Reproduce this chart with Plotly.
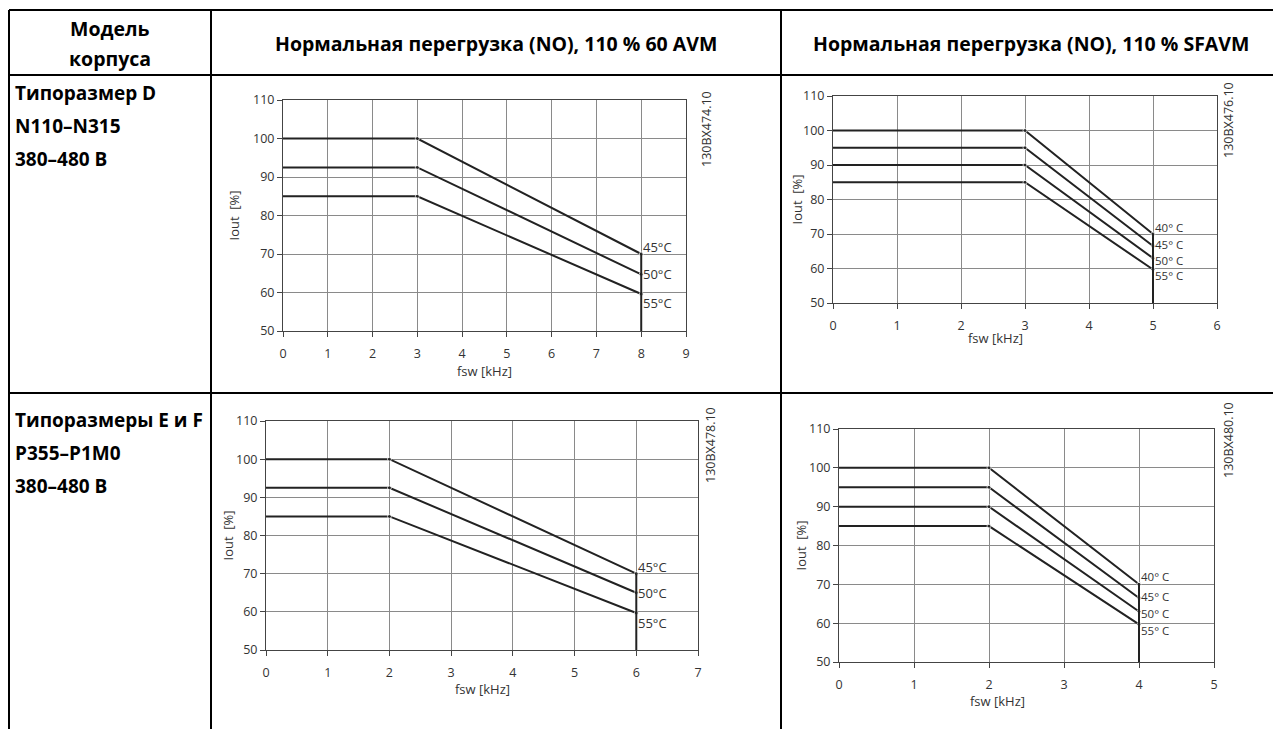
import plotly.graph_objects as go

# ==================================
# DATA
# ==================================

header_model = ["Модель", "корпуса"]
header_avm = "Нормальная перегрузка (NO), 110 % 60 AVM"
header_sfavm = "Нормальная перегрузка (NO), 110 % SFAVM"

row1_labels = ["Типоразмер D", "N110–N315", "380–480 В"]
row2_labels = ["Типоразмеры E и F", "P355–P1M0", "380–480 В"]

y_ticks = [50, 60, 70, 80, 90, 100, 110]

# top-left: size D, 60 AVM
d_avm_fsw = [0, 3, 8]
d_avm_temps = ["45°C", "50°C", "55°C"]
d_avm_iout = [
    [100, 100, 70],
    [92.5, 92.5, 64.7],
    [85, 85, 59.6],
]
d_avm_xmax = 9
d_avm_code = "130BX474.10"

# top-right: size D, SFAVM
d_sfavm_fsw = [0, 3, 5]
d_sfavm_temps = ["40° C", "45° C", "50° C", "55° C"]
d_sfavm_iout = [
    [100, 100, 70],
    [95, 95, 66.5],
    [90, 90, 63],
    [85, 85, 59.7],
]
d_sfavm_xmax = 6
d_sfavm_code = "130BX476.10"

# bottom-left: size E/F, 60 AVM
ef_avm_fsw = [0, 2, 6]
ef_avm_temps = ["45°C", "50°C", "55°C"]
ef_avm_iout = [
    [100, 100, 70],
    [92.5, 92.5, 65],
    [85, 85, 59.7],
]
ef_avm_xmax = 7
ef_avm_code = "130BX478.10"

# bottom-right: size E/F, SFAVM
ef_sfavm_fsw = [0, 2, 4]
ef_sfavm_temps = ["40° C", "45° C", "50° C", "55° C"]
ef_sfavm_iout = [
    [100, 100, 70],
    [95, 95, 66.5],
    [90, 90, 63],
    [85, 85, 59.7],
]
ef_sfavm_xmax = 5
ef_sfavm_code = "130BX480.10"


# ==================================
# LAYOUT HELPERS
# ==================================

W, H = 1281, 729
OFF = 8  # page body margin
FONT = "Open Sans"
HEAD_FONT = "Open Sans"
LINE = "#222222"
GRID = "#8a8a8a"
TXT = "#333333"


def px(x):
    return (x - OFF) / W


def py(y):
    return 1 - (y - OFF) / H


fig = go.Figure()
shapes = []
annotations = []

# table frame
for x in [9, 211, 781]:
    shapes.append(dict(type="line", xref="paper", yref="paper",
                       x0=px(x), x1=px(x), y0=py(10), y1=py(737),
                       line=dict(color="black", width=2)))
for y in [10, 75, 393]:
    shapes.append(dict(type="line", xref="paper", yref="paper",
                       x0=px(9), x1=px(1289), y0=py(y), y1=py(y),
                       line=dict(color="black", width=2)))


def text(x, y, s, size=19.5, anchor="center"):
    annotations.append(dict(
        x=px(x), y=py(y), xref="paper", yref="paper",
        text="<b>%s</b>" % s,
        showarrow=False, xanchor=anchor, yanchor="middle",
        font=dict(family=HEAD_FONT, size=size, color="black"),
    ))


text(110, 28, header_model[0])
text(110, 58, header_model[1])
text(496, 43, header_avm)
text(1031, 43, header_sfavm)

for i, s in enumerate(row1_labels):
    text(13, 93 + 33 * i, s, size=19, anchor="left")
for i, s in enumerate(row2_labels):
    text(13, 420 + 33 * i, s, size=19, anchor="left")


# ==================================
# DERATING CHARTS
# ==================================

def derating_chart(n, box, fsw, curves, temps, xmax, code,
                   label_dy, xtitle_y, ytitle_x, code_pos):
    x0, x1, y0, y1 = box
    xa = "xaxis" if n == 1 else "xaxis%d" % n
    ya = "yaxis" if n == 1 else "yaxis%d" % n
    xr = "x" if n == 1 else "x%d" % n
    yr = "y" if n == 1 else "y%d" % n

    for iout in curves:
        fig.add_trace(go.Scatter(
            x=fsw, y=iout, xaxis=xr, yaxis=yr,
            mode="lines+markers",
            line=dict(color=LINE, width=2),
            marker=dict(size=[0, 4, 4], color=LINE),
            showlegend=False, hoverinfo="skip",
        ))

    # vertical cut-off at the top switching frequency
    fig.add_trace(go.Scatter(
        x=[fsw[-1], fsw[-1]], y=[curves[0][-1], y_ticks[0]],
        xaxis=xr, yaxis=yr, mode="lines",
        line=dict(color=LINE, width=2),
        showlegend=False, hoverinfo="skip",
    ))

    label_size = 13 if len(curves) == 3 else 11.5
    for iout, t, dy in zip(curves, temps, label_dy):
        annotations.append(dict(
            x=fsw[-1], y=iout[-1] + dy, xref=xr, yref=yr,
            text=t, showarrow=False, xanchor="left", yanchor="middle",
            xshift=1, borderpad=0,
            font=dict(family=FONT, size=label_size, color=TXT),
        ))

    fig.update_layout(**{
        xa: dict(
            domain=[px(x0), px(x1)], anchor=yr, automargin=False,
            range=[0, xmax], dtick=1, tick0=0,
            showgrid=True, gridcolor=GRID, gridwidth=1,
            showline=True, linecolor="#444", linewidth=1, mirror=True,
            ticks="outside", ticklen=5, tickcolor="#444",
            ticklabelstandoff=6,
            tickfont=dict(family=FONT, size=12.5, color=TXT),
            zeroline=False, fixedrange=True,
        ),
        ya: dict(
            domain=[py(y1), py(y0)], anchor=xr, automargin=False,
            range=[50, 110], tickvals=y_ticks,
            showgrid=True, gridcolor=GRID, gridwidth=1,
            showline=True, linecolor="#444", linewidth=1, mirror=True,
            ticks="outside", ticklen=5, tickcolor="#444",
            tickfont=dict(family=FONT, size=12.5, color=TXT),
            zeroline=False, fixedrange=True,
        ),
    })

    annotations.append(dict(
        x=px((x0 + x1) / 2), y=py(xtitle_y), xref="paper", yref="paper",
        text="fsw [kHz]", showarrow=False, yanchor="middle",
        font=dict(family=FONT, size=13, color=TXT),
    ))
    annotations.append(dict(
        x=px(ytitle_x), y=py((y0 + y1) / 2), xref="paper", yref="paper",
        text="Iout  [%]", showarrow=False, textangle=-90,
        xanchor="center", yanchor="middle",
        font=dict(family=FONT, size=13, color=TXT),
    ))
    annotations.append(dict(
        x=px(code_pos[0]), y=py(code_pos[1]), xref="paper", yref="paper",
        text=code, showarrow=False, textangle=-90,
        xanchor="center", yanchor="middle",
        font=dict(family=FONT, size=12.5, color=TXT),
    ))


derating_chart(1, (283, 686, 100, 331), d_avm_fsw, d_avm_iout, d_avm_temps,
               d_avm_xmax, d_avm_code, [1.8, 0, -2.2], 371, 233, (707, 129))
derating_chart(2, (833, 1217, 96, 303), d_sfavm_fsw, d_sfavm_iout, d_sfavm_temps,
               d_sfavm_xmax, d_sfavm_code, [2.0, 0.5, -0.6, -1.7], 338, 797, (1228, 120))
derating_chart(3, (266, 698, 421, 650), ef_avm_fsw, ef_avm_iout, ef_avm_temps,
               ef_avm_xmax, ef_avm_code, [1.8, 0, -2.6], 689, 227, (710, 445))
derating_chart(4, (839, 1214, 429, 662), ef_sfavm_fsw, ef_sfavm_iout, ef_sfavm_temps,
               ef_sfavm_xmax, ef_sfavm_code, [1.9, 0.4, -0.4, -1.7], 701, 800, (1228, 440))

fig.update_layout(
    width=W, height=H, autosize=False,
    margin=dict(l=0, r=0, t=0, b=0, autoexpand=False),
    paper_bgcolor="white", plot_bgcolor="white",
    shapes=shapes, annotations=annotations,
    showlegend=False,
)

fig.write_html("out.html")
